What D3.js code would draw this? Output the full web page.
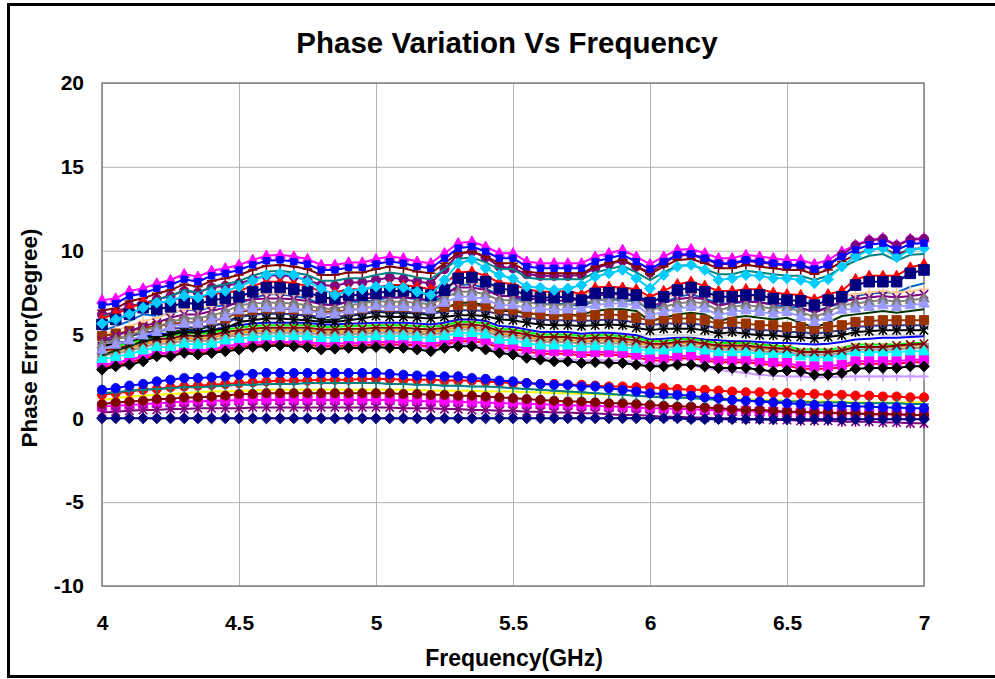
<!DOCTYPE html>
<html><head><meta charset="utf-8">
<script src="https://cdn.jsdelivr.net/npm/d3@7"></script>
<style>
body{margin:0;background:#fff}
svg{display:block}
text{font-family:"Liberation Sans",Arial,sans-serif;font-weight:bold;fill:#000}
</style>
</head><body>
<svg id="chart" width="995" height="679"></svg>
<script>
// ---- categories / ticks ----
const freqGHz = [4.00,4.05,4.10,4.15,4.20,4.25,4.30,4.35,4.40,4.45,4.50,4.55,4.60,4.65,4.70,4.75,4.80,4.85,4.90,4.95,5.00,5.05,5.10,5.15,5.20,5.25,5.30,5.35,5.40,5.45,5.50,5.55,5.60,5.65,5.70,5.75,5.80,5.85,5.90,5.95,6.00,6.05,6.10,6.15,6.20,6.25,6.30,6.35,6.40,6.45,6.50,6.55,6.60,6.65,6.70,6.75,6.80,6.85,6.90,6.95,7.00];
const xTickValues = [4,4.5,5,5.5,6,6.5,7];
const yTickValues = [-10,-5,0,5,10,15,20];
const chartTitle = "Phase Variation Vs Frequency";
const xTitle = "Frequency(GHz)";
const yTitle = "Phase Error(Degree)";

// ---- series values (degrees) ----
// top group
const magTri = [7.05,7.15,7.6,7.75,8.05,8.25,8.6,8.45,8.8,8.95, 9.15,9.45,9.7,9.75,9.65,9.5,9.15,9.15,9.3,9.3, 9.5,9.65,9.55,9.35,9.25,9.85,10.45,10.55,10.25,9.85, 9.85,9.35,9.25,9.25,9.25,9.25,9.65,9.85,10.05,9.65, 9.2,9.65,10.05,10.1,9.85,9.55,9.55,9.75,9.65,9.55, 9.45,9.45,9.2,9.45,9.95,10.35,10.65,10.75,10.35,10.7, 10.75];
const purCirc = [6.2,6.3,6.7,6.85,7.1,7.3,7.6,7.5,7.8,7.9, 8.05,8.3,8.5,8.55,8.45,8.25,7.95,7.9,8.1,8.1, 8.25,8.4,8.3,8.15,8.05,8.9,9.8,9.95,9.6,9.05, 8.95,8.6,8.5,8.5,8.5,8.55,8.95,9.2,9.4,9.05, 8.7,9.25,9.7,9.75,9.5,9.2,9.2,9.4,9.3,9.2, 9.1,9.1,8.85,9.15,9.75,10.3,10.6,10.7,10.3,10.65, 10.7];
const blueSq = [6.75,6.85,7.3,7.45,7.75,7.95,8.3,8.15,8.5,8.65, 8.85,9.15,9.4,9.45,9.35,9.2,8.85,8.85,9.0,9.0, 9.2,9.35,9.25,9.05,8.95,9.55,10.15,10.25,9.95,9.55, 9.55,9.05,8.95,8.95,8.95,8.95,9.35,9.55,9.75,9.35, 8.9,9.35,9.75,9.8,9.55,9.25,9.25,9.45,9.35,9.25, 9.15,9.15,8.9,9.15,9.65,10.05,10.35,10.45,10.05,10.4, 10.45];
const maroonPlus = [6.45,6.55,7.0,7.15,7.45,7.65,8.0,7.85,8.2,8.35, 8.55,8.85,9.1,9.15,9.05,8.9,8.55,8.55,8.7,8.7, 8.9,9.05,8.95,8.75,8.65,9.25,9.85,9.95,9.65,9.25, 9.25,8.75,8.65,8.65,8.65,8.65,9.05,9.25,9.45,9.05, 8.6,9.05,9.45,9.5,9.25,8.95,8.95,9.15,9.05,8.95, 8.85,8.85,8.6,8.85,9.35,9.75,10.05,10.15,9.75,10.1, 10.15];
const tealLine = [6.1,6.2,6.65,6.8,7.1,7.3,7.65,7.5,7.85,8.0, 8.2,8.5,8.75,8.8,8.7,8.55,8.2,8.2,8.35,8.35, 8.55,8.7,8.6,8.4,8.3,8.9,9.5,9.6,9.3,8.9, 8.9,8.4,8.3,8.3,8.3,8.3,8.7,8.9,9.1,8.7, 8.25,8.7,9.1,9.15,8.9,8.6,8.6,8.8,8.7,8.6, 8.5,8.5,8.25,8.5,9.0,9.4,9.7,9.8,9.4,9.75, 9.8];
const skyDiam = [5.65,5.9,6.2,6.6,6.9,7.0,7.3,7.2,7.5,7.6, 7.85,8.2,8.55,8.65,8.55,8.15,7.75,7.35,7.6,7.7, 7.85,7.85,7.8,7.55,7.35,8.25,9.25,9.45,8.95,8.55, 8.35,7.85,7.8,7.65,7.75,7.95,8.45,8.65,8.85,8.35, 7.75,8.55,9.05,9.15,8.85,8.25,8.35,8.55,8.5,8.35, 8.35,8.25,8.05,8.3,9.05,9.65,10.05,10.15,9.6,10.05, 10.15];
const redTri = [5.95,6.25,6.55,6.95,6.85,7.0,7.25,7.15,7.4,7.5, 7.6,7.9,8.15,8.15,8.05,7.9,7.55,7.5,7.7,7.7, 7.8,7.95,7.95,7.85,7.7,8.0,8.7,8.75,8.5,8.1, 8.0,7.7,7.55,7.55,7.6,7.4,7.8,7.85,7.8,7.7, 7.25,7.6,8.0,8.15,7.9,7.6,7.6,7.7,7.7,7.5, 7.4,7.35,7.1,7.4,7.6,8.3,8.5,8.5,8.5,9.0, 9.2];
const navySq = [5.6,5.9,6.2,6.6,6.5,6.65,6.9,6.8,7.05,7.15, 7.25,7.55,7.8,7.8,7.7,7.55,7.2,7.15,7.35,7.35, 7.45,7.6,7.6,7.5,7.35,7.65,8.35,8.4,8.15,7.75, 7.65,7.35,7.2,7.2,7.25,7.05,7.45,7.5,7.45,7.35, 6.9,7.25,7.65,7.8,7.55,7.25,7.25,7.35,7.35,7.15, 7.05,7.0,6.75,7.05,7.25,7.95,8.15,8.15,8.15,8.65, 8.85];
const steelLine = [5.2,5.5,5.8,6.2,6.1,6.25,6.5,6.4,6.65,6.75, 6.85,7.15,7.4,7.4,7.3,7.15,6.8,6.75,6.95,6.95, 7.05,7.2,7.2,7.1,6.95,7.25,7.95,8.0,7.75,7.35, 7.25,6.95,6.8,6.8,6.85,6.65,7.05,7.1,7.05,6.95, 6.5,6.85,7.25,7.4,7.15,6.85,6.85,6.95,6.95,6.75, 6.65,6.6,6.35,6.65,6.85,7.3,7.45,7.5,7.5,7.85, 8.05];
const peachPlus = [4.95,5.25,5.5,5.8,6.0,6.3,6.5,6.5,6.7,6.9, 7.3,7.4,7.45,7.45,7.4,7.3,7.1,7.05,7.3,7.4, 7.55,7.5,7.5,7.45,7.35,7.75,8.1,8.1,7.95,7.6, 7.6,7.45,7.4,7.3,7.35,7.4,7.6,7.7,7.7,7.6, 7.0,7.2,7.4,7.5,7.4,7.0,7.2,7.3,7.2,7.1, 7.2,6.9,6.6,6.9,7.3,7.4,7.5,7.6,7.5,7.6, 7.7];
const purpleX = [4.65,4.95,5.2,5.5,5.7,6.0,6.2,6.2,6.4,6.6, 7.0,7.1,7.15,7.15,7.1,7.0,6.8,6.75,7.0,7.1, 7.25,7.2,7.2,7.15,7.05,7.45,7.8,7.8,7.65,7.3, 7.3,7.15,7.1,7.0,7.05,7.1,7.3,7.4,7.4,7.3, 6.7,6.9,7.1,7.2,7.1,6.7,6.9,7.0,6.9,6.8, 6.9,6.6,6.3,6.6,7.0,7.1,7.2,7.3,7.2,7.3, 7.4];
const grayTri = [4.4,4.7,4.95,5.25,5.45,5.75,5.95,5.95,6.15,6.35, 6.75,6.85,6.9,6.9,6.85,6.75,6.55,6.5,6.75,6.85, 7.0,6.95,6.95,6.9,6.8,7.2,7.55,7.55,7.4,7.05, 7.05,6.9,6.85,6.75,6.8,6.85,7.05,7.15,7.15,7.05, 6.45,6.65,6.85,6.95,6.85,6.45,6.65,6.75,6.65,6.55, 6.65,6.35,6.05,6.35,6.75,6.85,6.95,7.05,6.95,7.05, 7.15];
const lavTri = [4.1,4.4,4.65,4.95,5.15,5.45,5.65,5.65,5.85,6.05, 6.45,6.55,6.6,6.6,6.55,6.45,6.25,6.2,6.45,6.55, 6.7,6.65,6.65,6.6,6.5,6.9,7.25,7.25,7.1,6.75, 6.75,6.6,6.55,6.45,6.5,6.55,6.75,6.85,6.85,6.75, 6.15,6.35,6.55,6.65,6.55,6.15,6.35,6.45,6.35,6.25, 6.35,6.05,5.75,6.05,6.45,6.55,6.65,6.75,6.65,6.75, 6.85];
const darkGreen = [3.75,4.05,4.3,4.6,4.8,5.1,5.3,5.3,5.5,5.7, 6.1,6.2,6.25,6.25,6.2,6.1,5.9,5.85,6.1,6.2, 6.35,6.3,6.3,6.25,6.15,6.55,6.9,6.9,6.75,6.4, 6.4,6.25,6.2,6.1,6.15,6.2,6.4,6.5,6.5,6.4, 5.8,6.0,6.2,6.3,6.2,5.8,6.0,6.1,6.0,5.9, 6.0,5.7,5.4,5.7,6.1,6.2,6.3,6.4,6.3,6.4, 6.5];
const brownSq = [4.9,5.05,5.2,5.4,5.5,5.6,5.75,5.7,5.85,5.95, 6.35,6.45,6.55,6.55,6.5,6.45,6.35,6.35,6.45,6.55, 6.7,6.65,6.65,6.6,6.55,6.65,6.75,6.75,6.7,6.5, 6.45,6.3,6.2,6.15,6.15,6.1,6.15,6.2,6.15,6.0, 5.85,5.95,5.95,5.95,5.85,5.65,5.75,5.65,5.55,5.55, 5.45,5.45,5.35,5.45,5.55,5.75,5.8,5.85,5.85,5.85, 5.85];
const indigoX = [4.6,4.75,4.9,5.1,5.2,5.3,5.45,5.4,5.55,5.65, 6.05,6.15,6.25,6.25,6.2,6.15,6.05,6.05,6.15,6.25, 6.4,6.35,6.35,6.3,6.25,6.35,6.45,6.45,6.4,6.2, 6.15,6.0,5.9,5.85,5.85,5.8,5.85,5.9,5.85,5.7, 5.55,5.65,5.65,5.65,5.55,5.35,5.45,5.35,5.25,5.25, 5.15,5.15,5.05,5.15,5.25,5.45,5.5,5.55,5.55,5.55, 5.55];
const blackStar = [4.3,4.45,4.6,4.8,4.9,5.0,5.15,5.1,5.25,5.35, 5.75,5.85,5.95,5.95,5.9,5.85,5.75,5.75,5.85,5.95, 6.1,6.05,6.05,6.0,5.95,6.05,6.15,6.15,6.1,5.9, 5.85,5.7,5.6,5.55,5.55,5.5,5.55,5.6,5.55,5.4, 5.25,5.35,5.35,5.35,5.25,5.05,5.15,5.05,4.95,4.95, 4.85,4.85,4.75,4.85,4.95,5.15,5.2,5.25,5.25,5.25, 5.25];
// middle group
const blueLine = [4.35,4.45,4.65,4.85,5.05,5.05,5.25,5.2,5.25,5.45, 5.55,5.65,5.7,5.7,5.7,5.7,5.6,5.6,5.65,5.65, 5.7,5.7,5.7,5.65,5.6,5.7,5.9,5.9,5.8,5.5, 5.45,5.3,5.15,5.15,5.15,5.05,5.1,5.1,5.05,4.95, 4.7,4.75,4.8,4.8,4.7,4.65,4.6,4.6,4.55,4.5, 4.5,4.45,4.4,4.45,4.55,4.7,4.75,4.8,4.8,4.85, 4.9];
const greenLine = [4.2,4.3,4.5,4.7,4.9,4.9,5.1,5.05,5.1,5.3, 5.4,5.5,5.55,5.55,5.55,5.55,5.45,5.45,5.5,5.5, 5.55,5.55,5.55,5.5,5.45,5.55,5.75,5.75,5.65,5.35, 5.3,5.15,5.0,5.0,5.0,4.9,4.95,4.95,4.9,4.8, 4.6,4.6,4.7,4.75,4.6,4.5,4.5,4.5,4.4,4.35, 4.3,4.1,4.1,4.1,4.2,4.4,4.4,4.4,4.4,4.5, 4.5];
const darkRedX = [4.05,4.15,4.35,4.55,4.75,4.75,4.95,4.9,4.95,5.15, 5.25,5.35,5.4,5.4,5.4,5.4,5.3,5.3,5.35,5.35, 5.4,5.4,5.4,5.35,5.3,5.4,5.6,5.6,5.5,5.2, 5.15,5.0,4.85,4.85,4.85,4.75,4.8,4.8,4.75,4.65, 4.45,4.45,4.55,4.6,4.45,4.35,4.35,4.35,4.25,4.2, 4.15,3.95,3.95,3.95,4.05,4.25,4.25,4.25,4.35,4.4, 4.45];
const orangeDiam = [3.9,4.0,4.2,4.4,4.6,4.6,4.8,4.75,4.8,5.0, 5.1,5.2,5.25,5.25,5.25,5.25,5.15,5.15,5.2,5.2, 5.25,5.25,5.25,5.2,5.15,5.25,5.45,5.45,5.35,5.05, 5.0,4.85,4.7,4.7,4.7,4.6,4.65,4.65,4.6,4.5, 4.35,4.35,4.45,4.5,4.35,4.25,4.25,4.25,4.15,4.1, 4.1,3.95,3.95,3.95,4.05,4.25,4.25,4.25,4.25,4.35, 4.35];
const graySq = [3.75,3.85,4.05,4.25,4.45,4.45,4.65,4.6,4.65,4.85, 4.95,5.05,5.1,5.1,5.1,5.1,5.0,5.0,5.05,5.05, 5.1,5.1,5.1,5.05,5.0,5.1,5.3,5.3,5.2,4.9, 4.85,4.7,4.55,4.55,4.55,4.45,4.5,4.5,4.45,4.35, 4.2,4.2,4.3,4.35,4.2,4.1,4.1,4.1,4.0,3.95, 3.95,3.8,3.8,3.8,3.9,4.1,4.1,4.1,4.1,4.2, 4.2];
const cyanTri = [3.55,3.65,3.85,4.05,4.25,4.25,4.45,4.4,4.45,4.65, 4.75,4.85,4.9,4.9,4.9,4.9,4.8,4.8,4.85,4.85, 4.9,4.9,4.9,4.85,4.8,4.9,5.1,5.1,5.0,4.7, 4.65,4.5,4.35,4.35,4.35,4.25,4.3,4.3,4.25,4.15, 4.05,4.05,4.15,4.2,4.05,3.95,3.95,3.95,3.85,3.85, 3.85,3.7,3.65,3.65,3.75,3.95,3.95,3.95,3.95,4.0, 4.0];
const magSq = [3.2,3.3,3.5,3.7,3.9,3.9,4.1,4.05,4.1,4.3, 4.4,4.5,4.55,4.55,4.55,4.55,4.45,4.45,4.5,4.5, 4.55,4.55,4.55,4.5,4.45,4.55,4.75,4.75,4.65,4.35, 4.3,4.15,4.0,4.0,4.0,3.9,3.95,3.95,3.9,3.8, 3.6,3.6,3.7,3.75,3.6,3.5,3.5,3.5,3.4,3.35, 3.3,3.1,3.1,3.1,3.2,3.4,3.4,3.4,3.4,3.5, 3.5];
const redLine = [3.05,3.15,3.35,3.55,3.75,3.75,3.95,3.9,3.95,4.15, 4.25,4.35,4.4,4.4,4.4,4.4,4.3,4.3,4.35,4.35, 4.4,4.4,4.4,4.35,4.3,4.4,4.6,4.6,4.5,4.2, 4.15,4.0,3.85,3.85,3.85,3.75,3.8,3.8,3.75,3.65, 3.45,3.45,3.55,3.6,3.45,3.35,3.35,3.35,3.25,3.2, 3.15,2.95,2.95,2.95,3.05,3.25,3.25,3.25,3.25,3.35, 3.35];
const lilacPlus = [3.05,3.25,3.35,3.55,3.85,3.85,4.05,3.95,4.05,4.15, 4.25,4.4,4.45,4.5,4.45,4.4,4.25,4.3,4.35,4.35, 4.4,4.35,4.35,4.25,4.15,4.35,4.45,4.45,4.25,4.05, 3.95,3.75,3.65,3.55,3.55,3.45,3.5,3.45,3.45,3.35, 3.25,3.2,3.2,3.15,3.0,2.9,2.8,2.7,2.6,2.55, 2.5,2.5,2.45,2.45,2.5,2.5,2.5,2.5,2.5,2.5, 2.5];
const blackDiam = [2.9,3.1,3.2,3.4,3.7,3.7,3.9,3.8,3.9,4.0, 4.1,4.25,4.3,4.35,4.3,4.25,4.1,4.15,4.2,4.2, 4.25,4.2,4.2,4.1,4.0,4.2,4.3,4.3,4.1,3.9, 3.8,3.6,3.5,3.4,3.4,3.3,3.35,3.3,3.3,3.2, 3.1,3.1,3.2,3.2,3.1,3.0,3.0,3.0,2.9,2.8, 2.85,2.8,2.6,2.6,2.7,2.95,3.0,3.0,3.0,3.1, 3.1];
// bottom group
const blueCirc = [1.7,1.8,1.95,2.05,2.2,2.3,2.4,2.4,2.45,2.5, 2.6,2.65,2.7,2.7,2.7,2.7,2.7,2.7,2.7,2.7, 2.7,2.65,2.6,2.55,2.55,2.5,2.5,2.4,2.35,2.25, 2.2,2.1,2.05,2.0,2.0,1.9,1.9,1.8,1.7,1.6, 1.5,1.45,1.4,1.35,1.25,1.2,1.1,1.05,1.0,0.95, 0.9,0.85,0.8,0.75,0.75,0.7,0.7,0.65,0.65,0.6, 0.6];
const redCirc = [1.4,1.5,1.6,1.7,1.75,1.85,1.9,1.95,2.0,2.05, 2.1,2.15,2.2,2.25,2.25,2.25,2.3,2.3,2.3,2.35, 2.35,2.35,2.3,2.3,2.3,2.25,2.25,2.25,2.2,2.15, 2.1,2.1,2.05,2.05,2.0,2.0,1.95,1.9,1.9,1.85, 1.85,1.8,1.75,1.7,1.7,1.65,1.6,1.55,1.55,1.5, 1.5,1.45,1.45,1.4,1.4,1.35,1.35,1.3,1.3,1.25, 1.25];
const tealPlus = [1.5,1.55,1.65,1.7,1.75,1.8,1.85,1.85,1.9,1.95, 2.0,2.0,2.05,2.05,2.05,2.1,2.1,2.1,2.1,2.1, 2.1,2.05,2.05,2.0,2.0,1.95,1.95,1.9,1.9,1.85, 1.8,1.75,1.7,1.65,1.6,1.55,1.5,1.45,1.4,1.35, 1.3,1.25,1.25,1.2,1.15,1.1,1.1,1.05,1.05,1.0, 1.0,1.0,0.95,0.95,0.95,0.9,0.9,0.9,0.9,0.85, 0.85];
const yellowLine = [1.1,1.2,1.3,1.35,1.4,1.45,1.5,1.55,1.6,1.6, 1.65,1.65,1.7,1.7,1.7,1.7,1.7,1.7,1.7,1.7, 1.7,1.7,1.7,1.7,1.65,1.65,1.65,1.65,1.6,1.6, 1.6,1.55,1.55,1.5,1.5,1.45,1.45,1.4,1.4,1.35, 1.3,1.3,1.25,1.25,1.2,1.2,1.15,1.15,1.1,1.1, 1.05,1.05,1.0,1.0,1.0,0.95,0.95,0.95,0.95,0.95, 0.95];
const maroonCirc = [0.85,0.95,1.0,1.05,1.15,1.15,1.25,1.25,1.3,1.35, 1.45,1.45,1.5,1.5,1.5,1.5,1.5,1.5,1.5,1.5, 1.5,1.5,1.45,1.45,1.4,1.4,1.35,1.35,1.3,1.25, 1.2,1.15,1.1,1.05,1.0,1.0,0.95,0.9,0.9,0.85, 0.8,0.75,0.7,0.7,0.65,0.6,0.55,0.5,0.5,0.45, 0.4,0.4,0.35,0.35,0.3,0.3,0.25,0.25,0.25,0.2, 0.2];
const magSqLow = [0.7,0.75,0.8,0.85,0.9,0.95,1.0,1.0,1.05,1.05, 1.1,1.1,1.1,1.1,1.1,1.1,1.1,1.1,1.1,1.1, 1.1,1.1,1.05,1.05,1.0,1.0,1.0,0.95,0.95,0.9, 0.9,0.85,0.85,0.8,0.8,0.75,0.75,0.7,0.7,0.65, 0.6,0.6,0.55,0.55,0.5,0.5,0.45,0.45,0.4,0.4, 0.35,0.35,0.35,0.3,0.3,0.3,0.25,0.25,0.25,0.2, 0.2];
const purpleStar = [0.35,0.4,0.45,0.5,0.5,0.55,0.55,0.6,0.6,0.6, 0.6,0.65,0.65,0.65,0.65,0.65,0.65,0.65,0.65,0.65, 0.65,0.65,0.6,0.6,0.6,0.55,0.55,0.5,0.5,0.45, 0.45,0.4,0.4,0.35,0.35,0.3,0.3,0.25,0.2,0.2, 0.15,0.1,0.1,0.05,0.05,0.0,0.0,-0.05,-0.05,-0.1, -0.1,-0.15,-0.15,-0.15,-0.2,-0.2,-0.2,-0.25,-0.25,-0.3, -0.3];
const navyDiam = [0.0,0.0,0.0,0.0,0.0,0.0,0.0,0.0,0.0,0.0, 0.0,0.0,0.0,0.0,0.0,0.0,0.0,0.0,0.0,0.0, 0.0,0.0,0.0,0.0,0.0,0.0,0.0,0.0,0.0,0.0, 0.0,0.0,0.0,0.0,0.0,0.0,0.0,0.0,0.0,0.0, 0.0,0.0,0.0,-0.05,-0.05,-0.05,-0.05,-0.05,-0.05,-0.05, -0.05,-0.05,-0.05,-0.05,-0.05,-0.05,-0.05,-0.05,-0.05,-0.05, -0.05];

// ---- draw-order table (first drawn = bottom) ----
const seriesTable = [
  {v: lilacPlus, c:"#CC99FF", m:"plus"},
  {v: redLine, c:"#FF0000", m:"none"},
  {v: blueLine, c:"#0000FF", m:"none"},
  {v: greenLine, c:"#00FF00", m:"none"},
  {v: orangeDiam, c:"#FF9900", m:"sdiamond"},
  {v: graySq, c:"#969696", m:"square"},
  {v: magSq, c:"#FF00FF", m:"square"},
  {v: cyanTri, c:"#00FFFF", m:"triangle"},
  {v: darkRedX, c:"#800000", m:"x"},
  {v: blackDiam, c:"#000000", m:"diamond"},
  {v: magSqLow, c:"#FF00FF", m:"square"},
  {v: yellowLine, c:"#FFFF00", m:"none"},
  {v: maroonCirc, c:"#800000", m:"circle"},
  {v: redCirc, c:"#FF0000", m:"circle"},
  {v: tealPlus, c:"#008080", m:"plus"},
  {v: blueCirc, c:"#0000FF", m:"circle"},
  {v: purpleStar, c:"#800080", m:"star"},
  {v: navyDiam, c:"#000080", m:"diamond"},
  {v: magTri, c:"#FF00FF", m:"triangle"},
  {v: purCirc, c:"#800080", m:"circle"},
  {v: darkGreen, c:"#003300", m:"none"},
  {v: steelLine, c:"#0066CC", m:"none"},
  {v: peachPlus, c:"#FFCC99", m:"plus"},
  {v: tealLine, c:"#008080", m:"none"},
  {v: maroonPlus, c:"#800000", m:"plus"},
  {v: indigoX, c:"#333399", m:"x"},
  {v: brownSq, c:"#993300", m:"square"},
  {v: blackStar, c:"#000000", m:"star"},
  {v: purpleX, c:"#800080", m:"x"},
  {v: grayTri, c:"#808080", m:"triangle"},
  {v: lavTri, c:"#9999FF", m:"triangle"},
  {v: redTri, c:"#FF0000", m:"triangle"},
  {v: navySq, c:"#000080", m:"bigsquare"},
  {v: skyDiam, c:"#00CCFF", m:"diamond"},
  {v: blueSq, c:"#0000FF", m:"ssquare"}
];

// ---- layout ----
const plot = {l:102, r:924, t:83, b:586};
const svg = d3.select("#chart");
const x = d3.scaleLinear().domain([4,7]).range([plot.l, plot.r]);
const y = d3.scaleLinear().domain([-10,20]).range([plot.b, plot.t]);

// outer frame
svg.append("rect").attr("x",8.5).attr("y",4.5).attr("width",1000).attr("height",672)
  .attr("fill","#fff").attr("stroke","#000").attr("stroke-width",3);

// grid + axes
const fmt = d => String(d);
const gx = svg.append("g").attr("transform",`translate(0,${plot.b})`)
  .call(d3.axisBottom(x).tickValues(xTickValues).tickSize(-(plot.b-plot.t)).tickPadding(29).tickFormat(fmt));
const gy = svg.append("g").attr("transform",`translate(${plot.l},0)`)
  .call(d3.axisLeft(y).tickValues(yTickValues).tickSize(-(plot.r-plot.l)).tickPadding(18).tickFormat(fmt));
[gx,gy].forEach(g=>{
  g.select(".domain").remove();
  g.selectAll(".tick line").attr("stroke","#b4b4b4").attr("stroke-width",1);
  g.selectAll(".tick text").attr("font-size",21).attr("font-family",'"Liberation Sans",Arial,sans-serif').attr("font-weight","bold").attr("fill","#000");
});
svg.append("rect").attr("x",plot.l).attr("y",plot.t).attr("width",plot.r-plot.l).attr("height",plot.b-plot.t)
  .attr("fill","none").attr("stroke","#808080").attr("stroke-width",1.5);

// marker path builders
function markerPath(type){
  switch(type){
    case "circle": return "M4.6,0A4.6,4.6 0 1,1 -4.6,0A4.6,4.6 0 1,1 4.6,0Z";
    case "square": return "M-4.6,-4.6H4.6V4.6H-4.6Z";
    case "bigsquare": return "M-5.3,-5.3H5.3V5.3H-5.3Z";
    case "ssquare": return "M-3.2,-3.2H3.2V3.2H-3.2Z";
    case "triangle": return "M0,-5.6L5.2,3.6H-5.2Z";
    case "diamond": return "M0,-5.4L5.4,0L0,5.4L-5.4,0Z";
    case "sdiamond": return "M0,-3.6L3.6,0L0,3.6L-3.6,0Z";
    case "x": return "M-4.2,-4.2L4.2,4.2M-4.2,4.2L4.2,-4.2";
    case "star": return "M-4.2,-4.2L4.2,4.2M-4.2,4.2L4.2,-4.2M0,-5L0,5";
    case "plus": return "M-4.8,0H4.8M0,-4.8V4.8";
  }
  return null;
}

const line = d3.line().x((d,i)=>x(freqGHz[i])).y(d=>y(d));
const layer = svg.append("g");
seriesTable.forEach(s=>{
  const g = layer.append("g");
  g.append("path").datum(s.v).attr("d",line).attr("fill","none").attr("stroke",s.c).attr("stroke-width",2);
  const p = markerPath(s.m);
  if(p){
    const open = (s.m==="x"||s.m==="star"||s.m==="plus");
    g.selectAll("path.mk").data(s.v).join("path").attr("class","mk")
      .attr("transform",(d,i)=>`translate(${x(freqGHz[i])},${y(d)})`)
      .attr("d",p)
      .attr("fill",open?"none":s.c)
      .attr("stroke",s.c).attr("stroke-width",open?1.6:1);
  }
});

// titles
svg.append("text").attr("x",507).attr("y",53).attr("text-anchor","middle").attr("font-size",29.5).text(chartTitle);
svg.append("text").attr("x",514).attr("y",666).attr("text-anchor","middle").attr("font-size",23).text(xTitle);
svg.append("text").attr("transform","translate(37,338) rotate(-90)").attr("text-anchor","middle").attr("font-size",22.5).text(yTitle);
</script>
</body></html>
